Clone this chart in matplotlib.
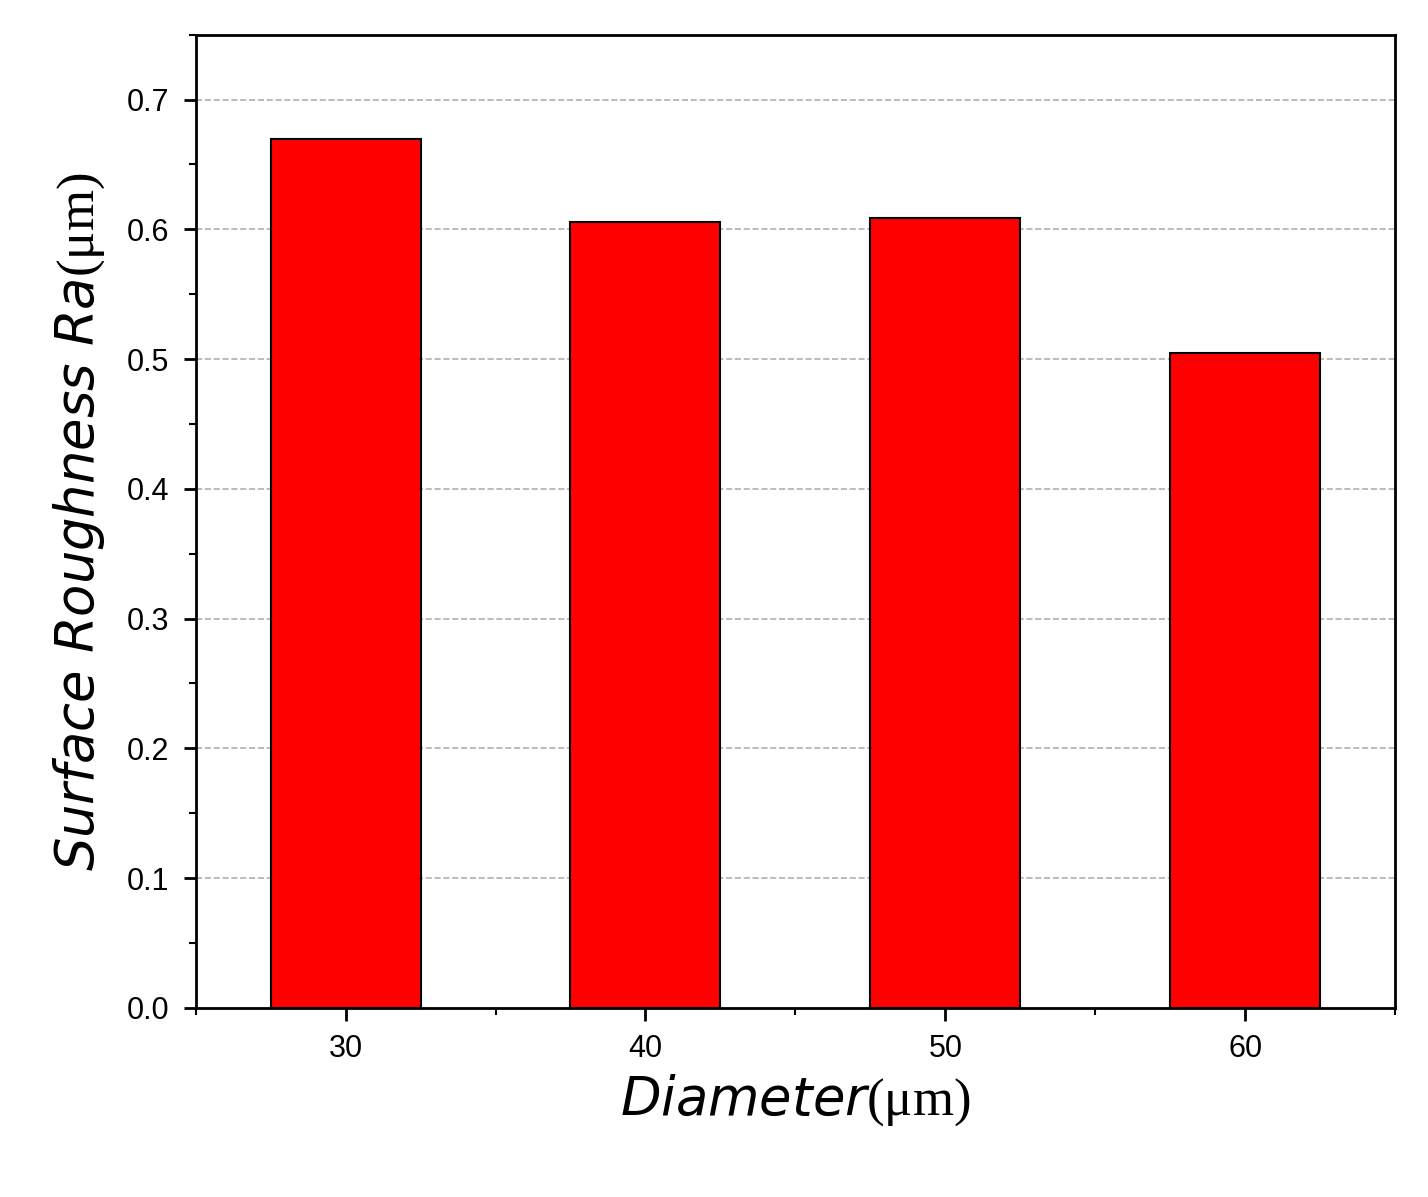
import numpy as np
import matplotlib
matplotlib.use('Agg')
import matplotlib.pyplot as plt
from matplotlib.ticker import MultipleLocator

diameters = [30, 40, 50, 60]
roughness = [0.670, 0.606, 0.609, 0.505]

fig = plt.figure(figsize=(14.28, 11.97), dpi=100)
ax = fig.add_axes([0.137, 0.158, 0.840, 0.813])

ax.bar(diameters, roughness, width=5, color='#ff0000', edgecolor='black', linewidth=1.5, zorder=3)

ax.set_xlim(25, 65)
ax.set_ylim(0, 0.75)
ax.set_xticks(diameters)
ax.set_yticks(np.arange(0, 0.71, 0.1))
ax.set_yticklabels(['%.1f' % v for v in np.arange(0, 0.71, 0.1)])
ax.xaxis.set_minor_locator(MultipleLocator(5))
ax.yaxis.set_minor_locator(MultipleLocator(0.05))
ax.grid(axis='y', which='major', linestyle='--', color='#b0b0b0', linewidth=1.2, zorder=0)
ax.set_axisbelow(True)

for s in ax.spines.values():
    s.set_linewidth(2)
ax.tick_params(which='major', direction='out', length=9, width=2, labelsize=22, pad=10)
ax.tick_params(which='minor', direction='out', length=5, width=1.5)
for lab in ax.get_xticklabels() + ax.get_yticklabels():
    lab.set_fontfamily('Liberation Sans')

ax.set_xlabel(r'$\mathit{Diameter}$(μm)', fontsize=38, family='Liberation Serif', labelpad=6)
ax.set_ylabel(r'$\mathit{Surface\ Roughness\ Ra}$(μm)', fontsize=38, family='Liberation Serif', labelpad=14)
plt.rcParams['mathtext.fontset'] = 'custom'
plt.rcParams['mathtext.it'] = 'Liberation Serif:italic'
plt.rcParams['mathtext.rm'] = 'Liberation Serif'
ax.set_xlabel(r'$\mathit{Diameter}$(μm)', fontsize=38, family='Liberation Serif', labelpad=6)
ax.set_ylabel(r'$\mathit{Surface\ Roughness\ Ra}$(μm)', fontsize=38, family='Liberation Serif', labelpad=14)

plt.savefig('out.png', dpi=100)
